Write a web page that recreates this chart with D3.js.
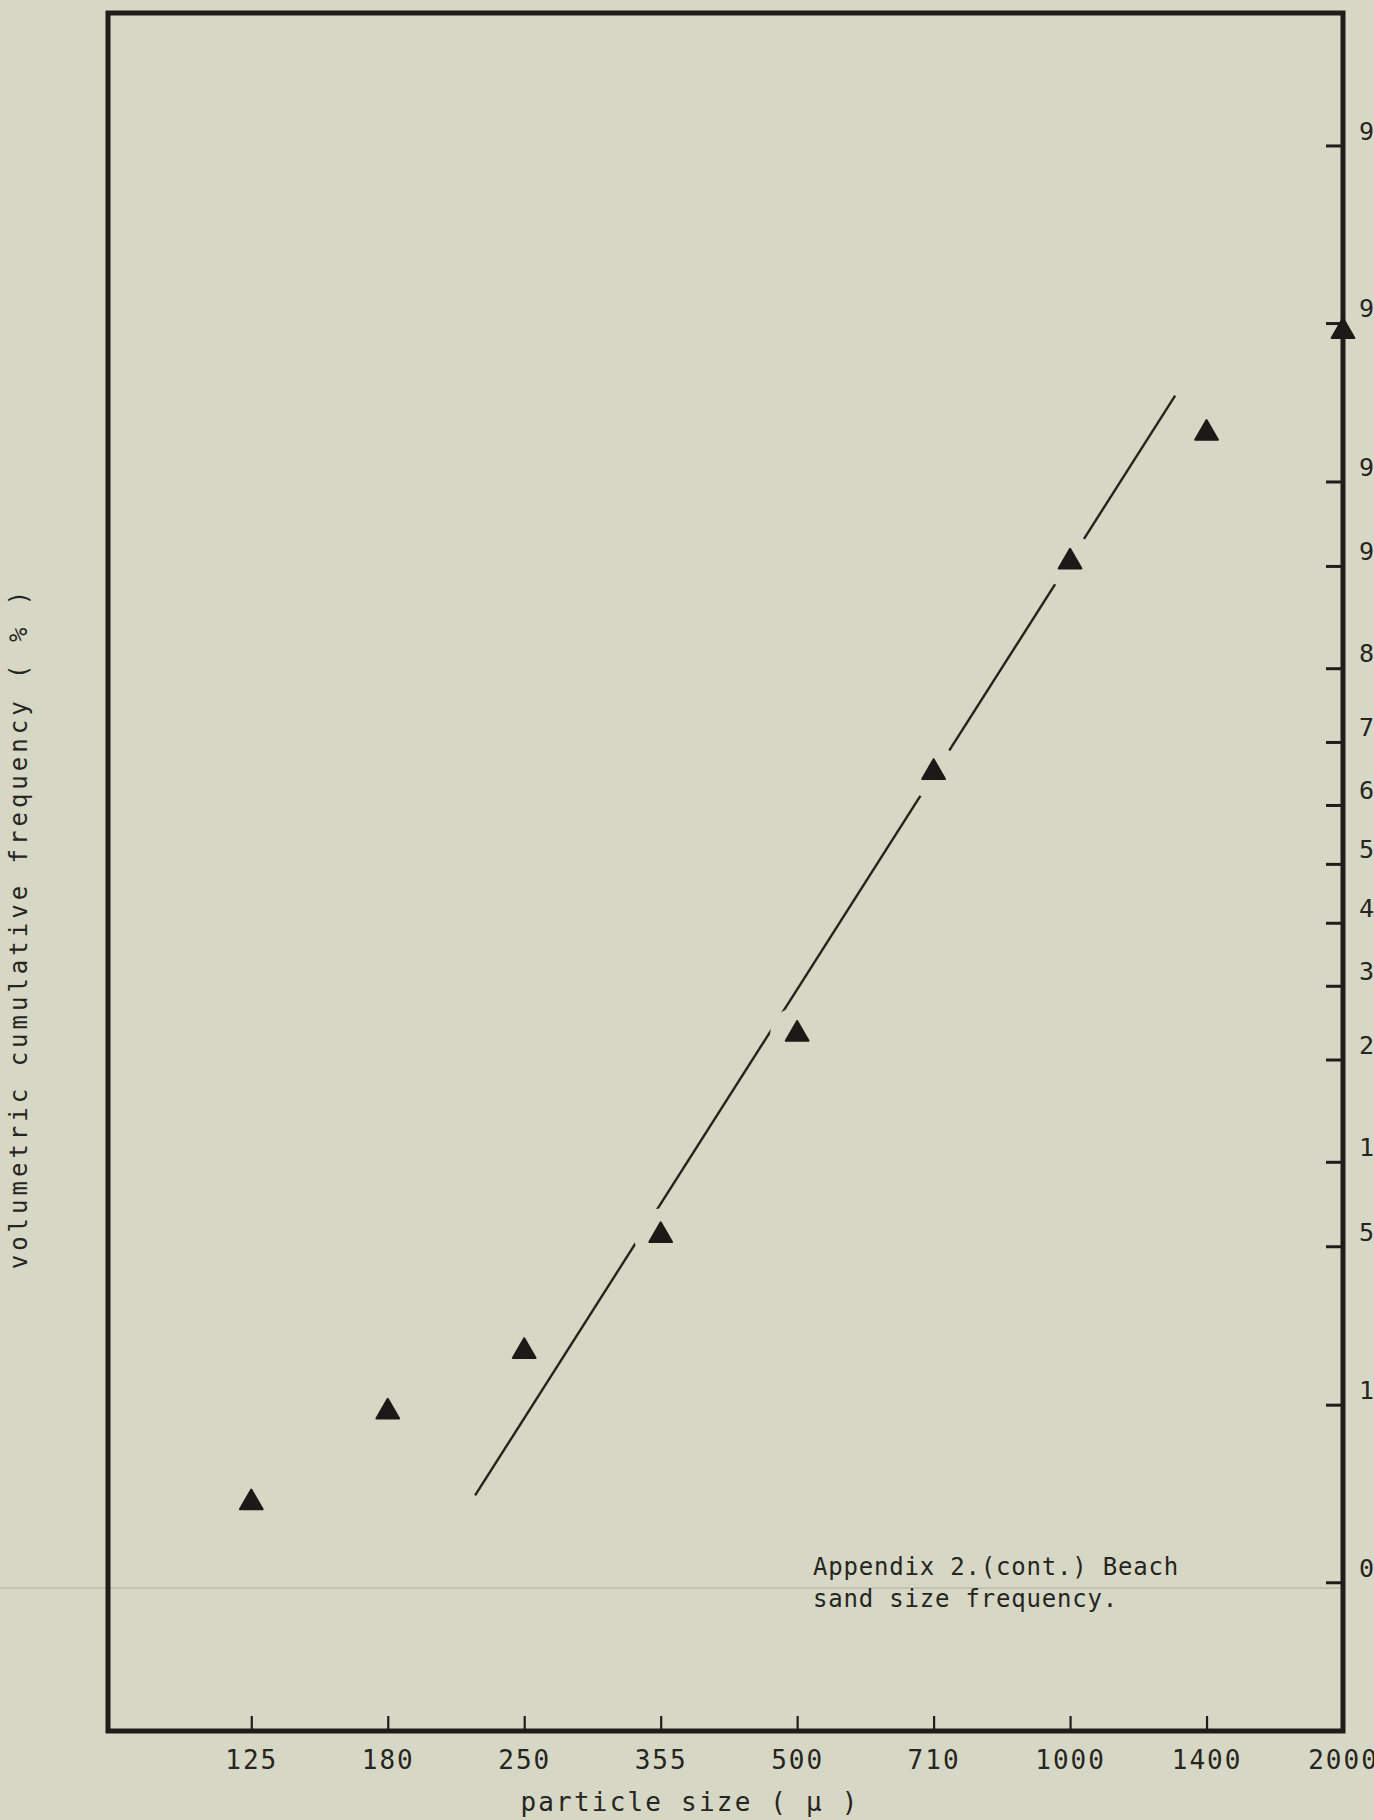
<!DOCTYPE html>
<html>
<head>
<meta charset="utf-8">
<script src="https://cdn.jsdelivr.net/npm/d3@7"></script>
<style>
  html, body { margin: 0; padding: 0; background: #d6d8c5; overflow: hidden; }
  svg { display: block; }
  text { font-family: "DejaVu Sans Mono", monospace; fill: #27251f; }
</style>
</head>
<body>
<svg id="chart" width="1374" height="1820"></svg>
<script>
// Sieve classes (µm) on the horizontal axis, equally spaced
const sizeLabels = ["125", "180", "250", "355", "500", "710", "1000", "1400", "2000"];
// Cumulative volumetric frequency (%) at each sieve class
const cumFreq = [0.30, 0.92, 1.8, 5.5, 23.2, 65.3, 90.3, 96.8, 98.9];
// Probability-paper ticks on the right axis
const probTicks = [0.1, 1, 5, 10, 20, 30, 40, 50, 60, 70, 80, 90, 95, 99, 99.9];
const probTickLabels = ["0.1", "1", "5", "10", "20", "30", "40", "50", "60", "70", "80", "90", "95", "99", "99.9"];
// Hand-fitted straight line: end points as (class position, %)
const fitClass = [1.64, 6.77];
const fitFreq = [0.33, 97.8];

// Inverse standard normal CDF (Acklam's rational approximation)
function probit(p) {
  const a = [-3.969683028665376e+01, 2.209460984245205e+02, -2.759285104469687e+02, 1.383577518672690e+02, -3.066479806614716e+01, 2.506628277459239e+00];
  const b = [-5.447609879822406e+01, 1.615858368580409e+02, -1.556989798598866e+02, 6.680131188771972e+01, -1.328068155288572e+01];
  const c = [-7.784894002430293e-03, -3.223964580411365e-01, -2.400758277161838e+00, -2.549732539343734e+00, 4.374664141464968e+00, 2.938163982698783e+00];
  const d = [7.784695709041462e-03, 3.224671290700398e-01, 2.445134137142996e+00, 3.754408661907416e+00];
  const pl = 0.02425, ph = 1 - pl;
  if (p < pl) {
    const q = Math.sqrt(-2 * Math.log(p));
    return (((((c[0]*q+c[1])*q+c[2])*q+c[3])*q+c[4])*q+c[5]) / ((((d[0]*q+d[1])*q+d[2])*q+d[3])*q+1);
  }
  if (p <= ph) {
    const q = p - 0.5, r = q * q;
    return (((((a[0]*r+a[1])*r+a[2])*r+a[3])*r+a[4])*r+a[5])*q / (((((b[0]*r+b[1])*r+b[2])*r+b[3])*r+b[4])*r+1);
  }
  const q = Math.sqrt(-2 * Math.log(1 - p));
  return -(((((c[0]*q+c[1])*q+c[2])*q+c[3])*q+c[4])*q+c[5]) / ((((d[0]*q+d[1])*q+d[2])*q+d[3])*q+1);
}
const z = pct => probit(pct / 100);

const frame = { left: 108, right: 1343, top: 13, bottom: 1731 };
const ink = "#1f1d1a";

const svg = d3.select("#chart");

// x: class position (0 = 125 µm ... 8 = 2000 µm)
const x = d3.scaleLinear().domain([-1.05, 8]).range([frame.left, frame.right]);
// y: normal-probability scale (z-score) spanning the frame
const y = d3.scaleLinear().domain([-3.73, 3.66]).range([frame.bottom, frame.top]);

// faint paste-up edge across the lower part of the sheet
svg.append("line")
  .attr("x1", 0).attr("x2", frame.right)
  .attr("y1", 1588).attr("y2", 1588)
  .attr("stroke", "#aeb0a1").attr("stroke-width", 1.2);

// bottom axis
const xAxis = d3.axisBottom(x)
  .tickValues(d3.range(sizeLabels.length))
  .tickFormat(i => sizeLabels[i])
  .tickSizeInner(-15).tickSizeOuter(0).tickPadding(20);
const gx = svg.append("g").attr("transform", `translate(0,${frame.bottom})`).call(xAxis);
gx.select(".domain").remove();
gx.selectAll(".tick line").attr("stroke", ink).attr("stroke-width", 2.2);
gx.selectAll(".tick text")
  .style("font-family", '"DejaVu Sans Mono", monospace')
  .attr("font-size", 26).attr("letter-spacing", 2).attr("fill", "#27251f");

// right axis (probability paper); labels run past the sheet edge
const yAxis = d3.axisRight(y)
  .tickValues(probTicks.map(z))
  .tickFormat((d, i) => probTickLabels[i])
  .tickSizeInner(-17).tickSizeOuter(0).tickPadding(16);
const gy = svg.append("g").attr("transform", `translate(${frame.right},0)`).call(yAxis);
gy.select(".domain").remove();
gy.selectAll(".tick line").attr("stroke", ink).attr("stroke-width", 3);
gy.selectAll(".tick text")
  .style("font-family", '"DejaVu Sans Mono", monospace')
  .attr("font-size", 25).attr("dy", "-0.25em").attr("fill", "#27251f");

// frame
svg.append("rect")
  .attr("x", frame.left).attr("y", frame.top)
  .attr("width", frame.right - frame.left).attr("height", frame.bottom - frame.top)
  .attr("fill", "none").attr("stroke", ink).attr("stroke-width", 5);

const pts = cumFreq.map((v, i) => ({ px: x(i), py: y(z(v)) }));

// the fitted line is interrupted where it passes the plotted triangles
const mask = svg.append("defs").append("mask")
  .attr("id", "gapMask").attr("maskUnits", "userSpaceOnUse")
  .attr("x", 0).attr("y", 0).attr("width", 1374).attr("height", 1820);
mask.append("rect").attr("width", 1374).attr("height", 1820).attr("fill", "white");
mask.selectAll("circle").data(pts).join("circle")
  .attr("cx", d => d.px).attr("cy", d => d.py).attr("r", 27).attr("fill", "black");

svg.append("path")
  .datum(fitClass.map((c, i) => [c, fitFreq[i]]))
  .attr("d", d3.line().x(d => x(d[0])).y(d => y(z(d[1]))))
  .attr("fill", "none").attr("stroke", "#25231f").attr("stroke-width", 2.4)
  .attr("mask", "url(#gapMask)");

// data points
svg.append("g").selectAll("path").data(pts).join("path")
  .attr("transform", d => `translate(${d.px},${d.py})`)
  .attr("d", d3.symbol(d3.symbolTriangle, 225)())
  .attr("fill", "#1c1a17").attr("stroke", "#1c1a17")
  .attr("stroke-width", 2).attr("stroke-linejoin", "round");

// axis titles
svg.append("text")
  .attr("x", 690).attr("y", 1811)
  .attr("text-anchor", "middle")
  .attr("font-size", 26).attr("letter-spacing", 2.2)
  .text("particle size ( \u03BC )");

svg.append("text")
  .attr("transform", "translate(27,928) rotate(-90)")
  .attr("text-anchor", "middle")
  .attr("font-size", 24).attr("letter-spacing", 4)
  .text("volumetric cumulative frequency ( % )");

// caption
const cap = svg.append("text").attr("x", 813).attr("font-size", 24).attr("letter-spacing", 0.8);
cap.append("tspan").attr("x", 813).attr("y", 1575).text("Appendix 2.(cont.) Beach");
cap.append("tspan").attr("x", 813).attr("y", 1607).text("sand size frequency.");
</script>
</body>
</html>
